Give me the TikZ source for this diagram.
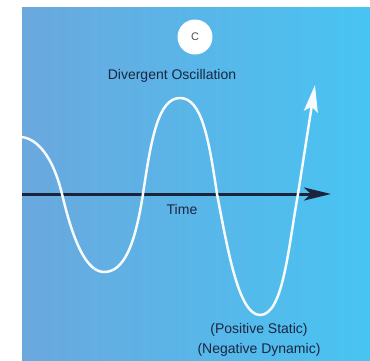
\documentclass[tikz,border=0pt]{standalone}
\usepackage{fontspec}
\setmainfont{Liberation Sans}
\usetikzlibrary{arrows.meta}
\definecolor{bgleft}{RGB}{106,168,222}
\definecolor{bgright}{RGB}{72,196,242}
\definecolor{navy}{RGB}{26,36,60}
\definecolor{txt}{RGB}{26,38,66}
\definecolor{curvecol}{RGB}{246,250,253}
\tikzset{
  lbl/.style={font=\fontsize{14}{19}\selectfont, text=txt, inner sep=0pt, anchor=base},
  badge/.style={circle, fill=white, minimum size=35pt, inner sep=0pt, text=black!70, font=\fontsize{11}{12}\selectfont},
  axisline/.style={draw=navy, line width=3pt, -{Stealth[length=27pt,width=13pt,inset=7pt]}},
  wave/.style={draw=curvecol, line width=2.5pt, -{Stealth[length=27pt,width=14pt,inset=5pt]}}
}
\begin{document}
\begin{tikzpicture}[x=1pt,y=-1pt]
\useasboundingbox (0,0) rectangle (370,360);
\fill[white] (0,0) rectangle (370,360);
\shade[left color=bgleft, right color=bgright] (22,7) rectangle (370,360);
\node[badge] (c) at (195,37) {C};
\node[lbl] (title) at (172,79) {Divergent Oscillation};
\coordinate (axstart) at (22,194);
\coordinate (axend) at (331,194);
\draw[axisline] (axstart) -- (axend);
\node[lbl] (time) at (182,214) {Time};
\node[lbl] (lab1) at (259,333) {(Positive Static)};
\node[lbl] (lab2) at (259,353) {(Negative Dynamic)};
\coordinate (w0) at (22,137);
\coordinate (tip) at (315,85);
\draw[wave] (w0)
  .. controls (42,140) and (55,165) .. (62,194)
  .. controls (69,223) and (82,272) .. (104,272)
  .. controls (124,272) and (135,245) .. (143,194)
  .. controls (151,140) and (158,98) .. (180,98)
  .. controls (202,98) and (209,140) .. (217,194)
  .. controls (227,245) and (238,315) .. (260,315)
  .. controls (283,315) and (288,250) .. (298,194)
  -- (tip);
\end{tikzpicture}
\end{document}
